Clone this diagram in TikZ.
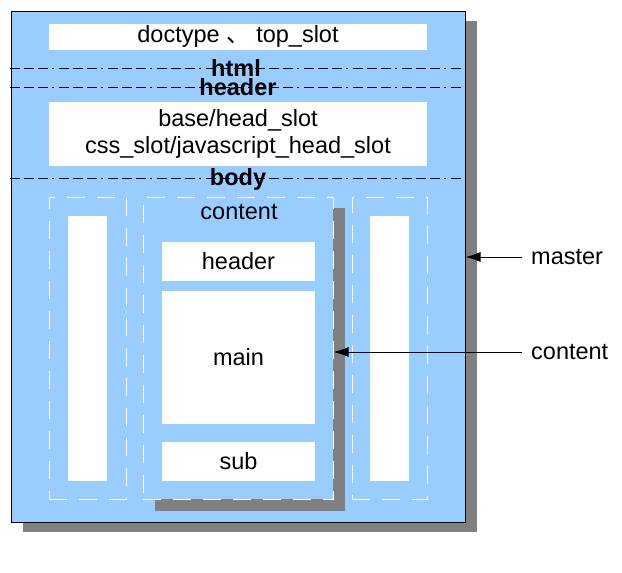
\documentclass[tikz,border=0pt]{standalone}
\usepackage{fontspec}
\setmainfont{Liberation Sans}
\newfontfamily\cjk{Noto Sans CJK SC}
\usetikzlibrary{positioning}
\usetikzlibrary{arrows.meta}
\definecolor{paneblue}{HTML}{99CCFF}
\definecolor{shadegray}{HTML}{808080}
\newcommand{\panefont}{\fontsize{23.5}{27}\selectfont}

\tikzset{
  masterbox/.style={draw=black, line width=1pt, fill=paneblue, minimum width=454pt, minimum height=511pt, inner sep=0pt},
  slotbox/.style={fill=white, inner sep=0pt, align=center},
  colbox/.style={draw=white, line width=1pt, dash pattern=on 18pt off 12pt, inner sep=0pt},
  sepline/.style={line width=1pt, dash pattern=on 10pt off 4pt on 10pt off 4pt on 10pt off 4pt on 2pt off 5pt},
  tag/.style={font=\panefont\bfseries, inner sep=0pt},
  callout/.style={line width=1pt, -{Latex[length=15pt,width=10pt]}},
}

\begin{document}
\begin{tikzpicture}[x=1pt, y=-1pt, font=\panefont]
\useasboundingbox (0,0) rectangle (622,573);

%---------------------------------------
% master frame with its shadow
%---------------------------------------
\fill[shadegray] (23,21) rectangle (477,532);
\node[masterbox] (master) at (238,266.5) {};

% top slot
\node[slotbox, minimum width=378pt, minimum height=26pt] (doctype) at (238,36.5) {doctype {\cjk 、} top\_slot};

% html / header / body separators
\draw[sepline] (10,68) -- (465,68);
\draw[sepline] (10,87) -- (465,87);
\node[tag] (html) at (236,68) {html};
\node[tag] (head) at (238,87) {header};

\node[slotbox, minimum width=378pt, minimum height=64pt] (headslot) at (238,134) {base/head\_slot\\css\_slot/javascript\_head\_slot};

\draw[sepline] (10,178) -- (465,178);
\node[tag] (body) at (238,179) {body};

%---------------------------------------
% body columns
%---------------------------------------
\node[colbox, minimum width=77pt, minimum height=302pt] (leftcol) at (87.5,348) {};
\node[slotbox, minimum width=39pt, minimum height=265pt] (leftslot) at (87.5,348.5) {};

% content shadow
\fill[shadegray] (333,208) rectangle (345,511);
\fill[shadegray] (155,499) rectangle (345,511);
\node[colbox, minimum width=190pt, minimum height=302pt] (content) at (238,348) {};
\node (contenttitle) at (239,212) {content};
\node[slotbox, minimum width=153pt, minimum height=39pt] (header) at (238.5,261.5) {header};
\node[slotbox, minimum width=153pt, minimum height=133pt] (main) at (238.5,357.5) {main};
\node[slotbox, minimum width=153pt, minimum height=39pt] (sub) at (238.5,461.5) {sub};

\node[colbox, minimum width=75pt, minimum height=302pt] (rightcol) at (389.5,348) {};
\node[slotbox, minimum width=39pt, minimum height=265pt] (rightslot) at (389.5,348.5) {};

%---------------------------------------
% callouts
%---------------------------------------
\node[anchor=west, inner sep=0pt] (masterlbl) at (531,257) {master};
\node[anchor=west, inner sep=0pt] (contentlbl) at (531,352) {content};
\coordinate (masterend) at (master.east |- masterlbl.west);
\coordinate (contentend) at (content.east |- contentlbl.west);
\draw[callout] ([xshift=-9pt]masterlbl.west) -- (masterend);
\draw[callout] ([xshift=-9pt]contentlbl.west) -- (contentend);
\end{tikzpicture}
\end{document}
